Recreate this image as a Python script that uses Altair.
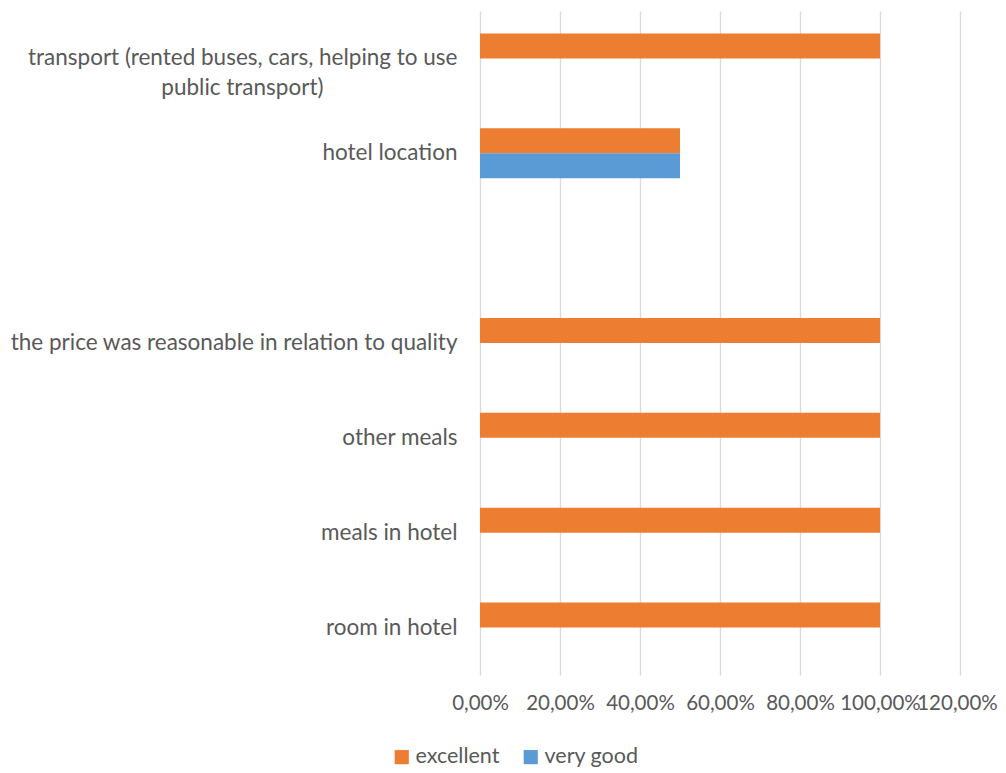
import altair as alt
import pandas as pd

categories = [
    "transport (rented buses, cars, helping to use public transport)",
    "hotel location",
    " ",
    "the price was reasonable in relation to quality",
    "other meals",
    "meals in hotel",
    "room in hotel",
]
transport_lines = ["transport (rented buses, cars, helping to use", "public transport)"]
series = ["excellent", "very good"]
excellent = [1.0, 0.5, None, 1.0, 1.0, 1.0, 1.0]
very_good = [None, 0.5, None, None, None, None, None]
x_ticks = [0, 0.2, 0.4, 0.6, 0.8, 1.0, 1.2]
colors = ["#ED7D31", "#5B9BD5"]

rows = []
for c, e, v in zip(categories, excellent, very_good):
    if e is not None:
        rows.append({"category": c, "series": "excellent", "value": e})
    if v is not None:
        rows.append({"category": c, "series": "very good", "value": v})
df = pd.DataFrame(rows)

FONT = "Lato"
TXT = "#595959"
FS = 22.5
LH = 30

expr_a = (
    "datum.value == '" + categories[0] + "' ? ['" + transport_lines[0] + "', ''] : datum.value"
)
expr_b = "datum.value == '" + categories[0] + "' ? ['', '" + transport_lines[1] + "'] : ''"

y_scale = alt.Scale(domain=categories, paddingInner=0.473, paddingOuter=0.2365)
x_scale = alt.Scale(domain=[0, 1.2], nice=False, zero=True)

def y_axis(expr, pad):
    return alt.Axis(
        title=None,
        orient="left",
        domain=False,
        ticks=False,
        grid=False,
        labelExpr=expr,
        labelAlign="right",
        labelBaseline="middle",
        labelPadding=pad,
        labelLineHeight=LH,
        labelLimit=0,
        labelFont=FONT,
        labelFontSize=FS,
        labelColor=TXT,
    )

bars = (
    alt.Chart(df)
    .mark_bar()
    .encode(
        x=alt.X(
            "value:Q",
            scale=x_scale,
            axis=alt.Axis(
                values=x_ticks,
                labelExpr="replace(format(datum.value, '.2%'), '.', ',')",
                title=None,
                domain=False,
                ticks=False,
                grid=True,
                gridColor="#D9D9D9",
                gridWidth=1.3,
                labelOverlap=False,
                labelFlush=False,
                labelBound=False,
                labelPadding=18,
                labelOffset={"condition": {"test": "datum.value > 1.1", "value": -3}, "value": 0},
                labelFont=FONT,
                labelFontSize=20.5,
                labelColor=TXT,
            ),
        ),
        y=alt.Y("category:N", sort=categories, scale=y_scale, axis=y_axis(expr_a, 23)),
        yOffset=alt.YOffset("series:N", sort=series, scale=alt.Scale(domain=series)),
        color=alt.Color(
            "series:N",
            sort=series,
            scale=alt.Scale(domain=series, range=colors),
            legend=alt.Legend(
                title=None,
                orient="none",
                direction="horizontal",
                legendX=-89,
                legendY=735,
                padding=0,
                symbolType="square",
                symbolSize=200,
                symbolStrokeWidth=0,
                labelFont=FONT,
                labelFontSize=21.5,
                labelColor=TXT,
                labelOffset=3,
                columnPadding=20,
            ),
        ),
    )
)

second_line = (
    alt.Chart(df)
    .mark_bar(opacity=0)
    .encode(
        x=alt.X("value:Q", scale=x_scale, axis=None),
        y=alt.Y("category:N", sort=categories, scale=y_scale, axis=y_axis(expr_b, 157)),
    )
)

chart = (
    alt.layer(bars, second_line)
    .resolve_axis(x="independent", y="independent")
    .properties(
        width=480,
        height=664,
        autosize=alt.AutoSizeParams(type="none"),
        padding={"left": 472, "top": 3, "right": 38, "bottom": 92},
    )
    .configure_view(stroke=None)
)

chart.save("out.html", embed_options={"renderer": "svg", "actions": False})
